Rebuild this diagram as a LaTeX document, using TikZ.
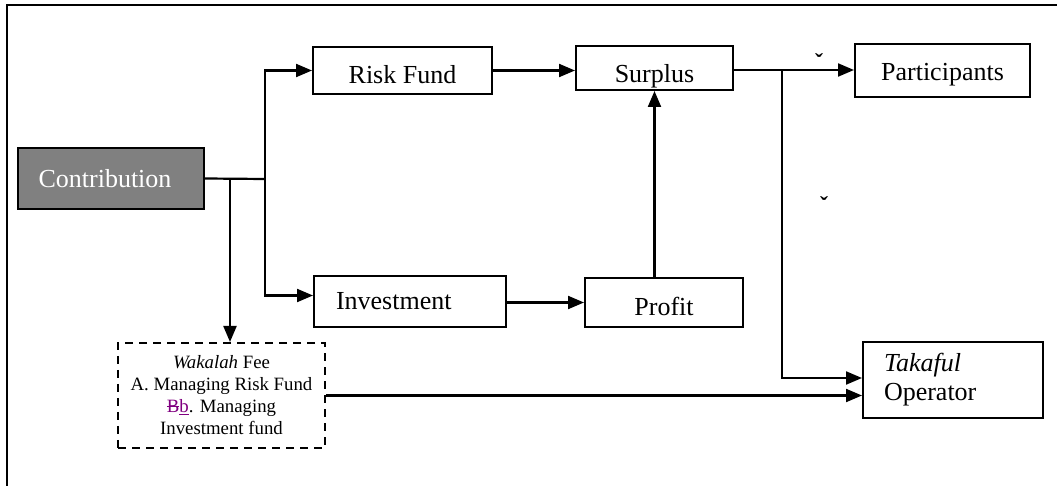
\documentclass[tikz,border=0pt]{standalone}
\usepackage{fontspec}
\setmainfont{Liberation Serif}
\usetikzlibrary{arrows.meta}
\definecolor{editpurple}{RGB}{128,0,128}
\newlength{\glyphwd}
\newcommand{\struck}[1]{\settowidth{\glyphwd}{#1}\makebox[0pt][l]{\rule[0.3em]{\glyphwd}{0.5pt}}#1}
\newcommand{\underl}[1]{\settowidth{\glyphwd}{#1}\makebox[0pt][l]{\rule[-0.12em]{\glyphwd}{0.5pt}}#1}
\newcommand{\lowered}[2]{\raisebox{-#1}[\height][\depth]{#2}}

\begin{document}
\begin{tikzpicture}[x=0.5pt, y=-0.5pt, line width=1pt,
    fundbox/.style={draw, inner sep=0pt, font=\fontsize{13}{15}\selectfont},
    feebox/.style={draw, dashed, dash pattern=on 4pt off 3pt, inner sep=0pt, align=center,
        font=\fontsize{9.4}{11}\selectfont},
    flow/.style={-{Triangle[length=8pt,width=6.5pt]}, line width=1.1pt},
    plain/.style={line width=1.1pt}]
    \useasboundingbox (0,0) rectangle (1057,486);
    % frame
    \draw (7,486) -- (7,5) -- (1057,5);
    % boxes
    \node[fundbox, fill=black!50, text=white, minimum width=93pt, minimum height=30.5pt] (contrib) at (111,178.5) {\hspace*{-6pt}Contribution};
    \node[fundbox, minimum width=89.5pt, minimum height=23.5pt] (risk) at (402.5,70.5) {\lowered{2pt}{Risk Fund}};
    \node[fundbox, minimum width=78.5pt, minimum height=22pt] (surplus) at (654.5,68) {\lowered{4pt}{Surplus}};
    \node[fundbox, minimum width=87.5pt, minimum height=26.5pt] (partic) at (942.5,70.5) {\lowered{2pt}{Participants}};
    \node[fundbox, minimum width=96pt, minimum height=25.5pt, text width=74pt, align=left, inner xsep=11pt] (invest) at (410,301.5) {Investment};
    \node[fundbox, minimum width=79pt, minimum height=24.5pt] (profit) at (664,302.5) {\lowered{2pt}{Profit}};
    \node[fundbox, minimum width=90pt, minimum height=38pt, text width=69pt, align=left, inner xsep=10.5pt,
        font=\fontsize{13}{14.5}\selectfont] (operator) at (953,380) {\textit{Takaful}\\Operator};
    \node[feebox, minimum width=103.5pt, minimum height=52.5pt] (wakalah) at (221.5,395.5)
        {\textit{Wakalah} Fee\\A. Managing Risk Fund\\{\color{editpurple}\struck{B}\underl{b}}. Managing\\Investment fund};
    % small marks
    \node[inner sep=0pt, font=\large\bfseries] (mark1) at (816,62) {\v{}};
    \node[inner sep=0pt, font=\large\bfseries] (mark2) at (821,205) {\v{}};
    % connectors
    \coordinate (split) at (265,179);
    \coordinate (wsplit) at (230,179);
    \coordinate (psplit) at (782,70);
    \draw[plain] (contrib.east) -- (split);
    \draw[flow] (split) |- (risk.west);
    \draw[flow] (split) |- ([yshift=3pt]invest.west);
    \draw[flow] (wsplit) -- (wsplit |- wakalah.north);
    \draw[flow] (risk.east) -- (risk.east -| surplus.west);
    \draw[flow] (profit.north -| surplus.south) -- (surplus.south);
    \draw[flow] (invest.east |- profit.west) -- (profit.west);
    \draw[flow] (surplus.east |- psplit) -- (partic.west |- psplit);
    \draw[flow] (psplit) |- ([yshift=1pt]operator.west);
    \draw[flow] (wakalah.east) -- (wakalah.east -| operator.west);
\end{tikzpicture}
\end{document}
